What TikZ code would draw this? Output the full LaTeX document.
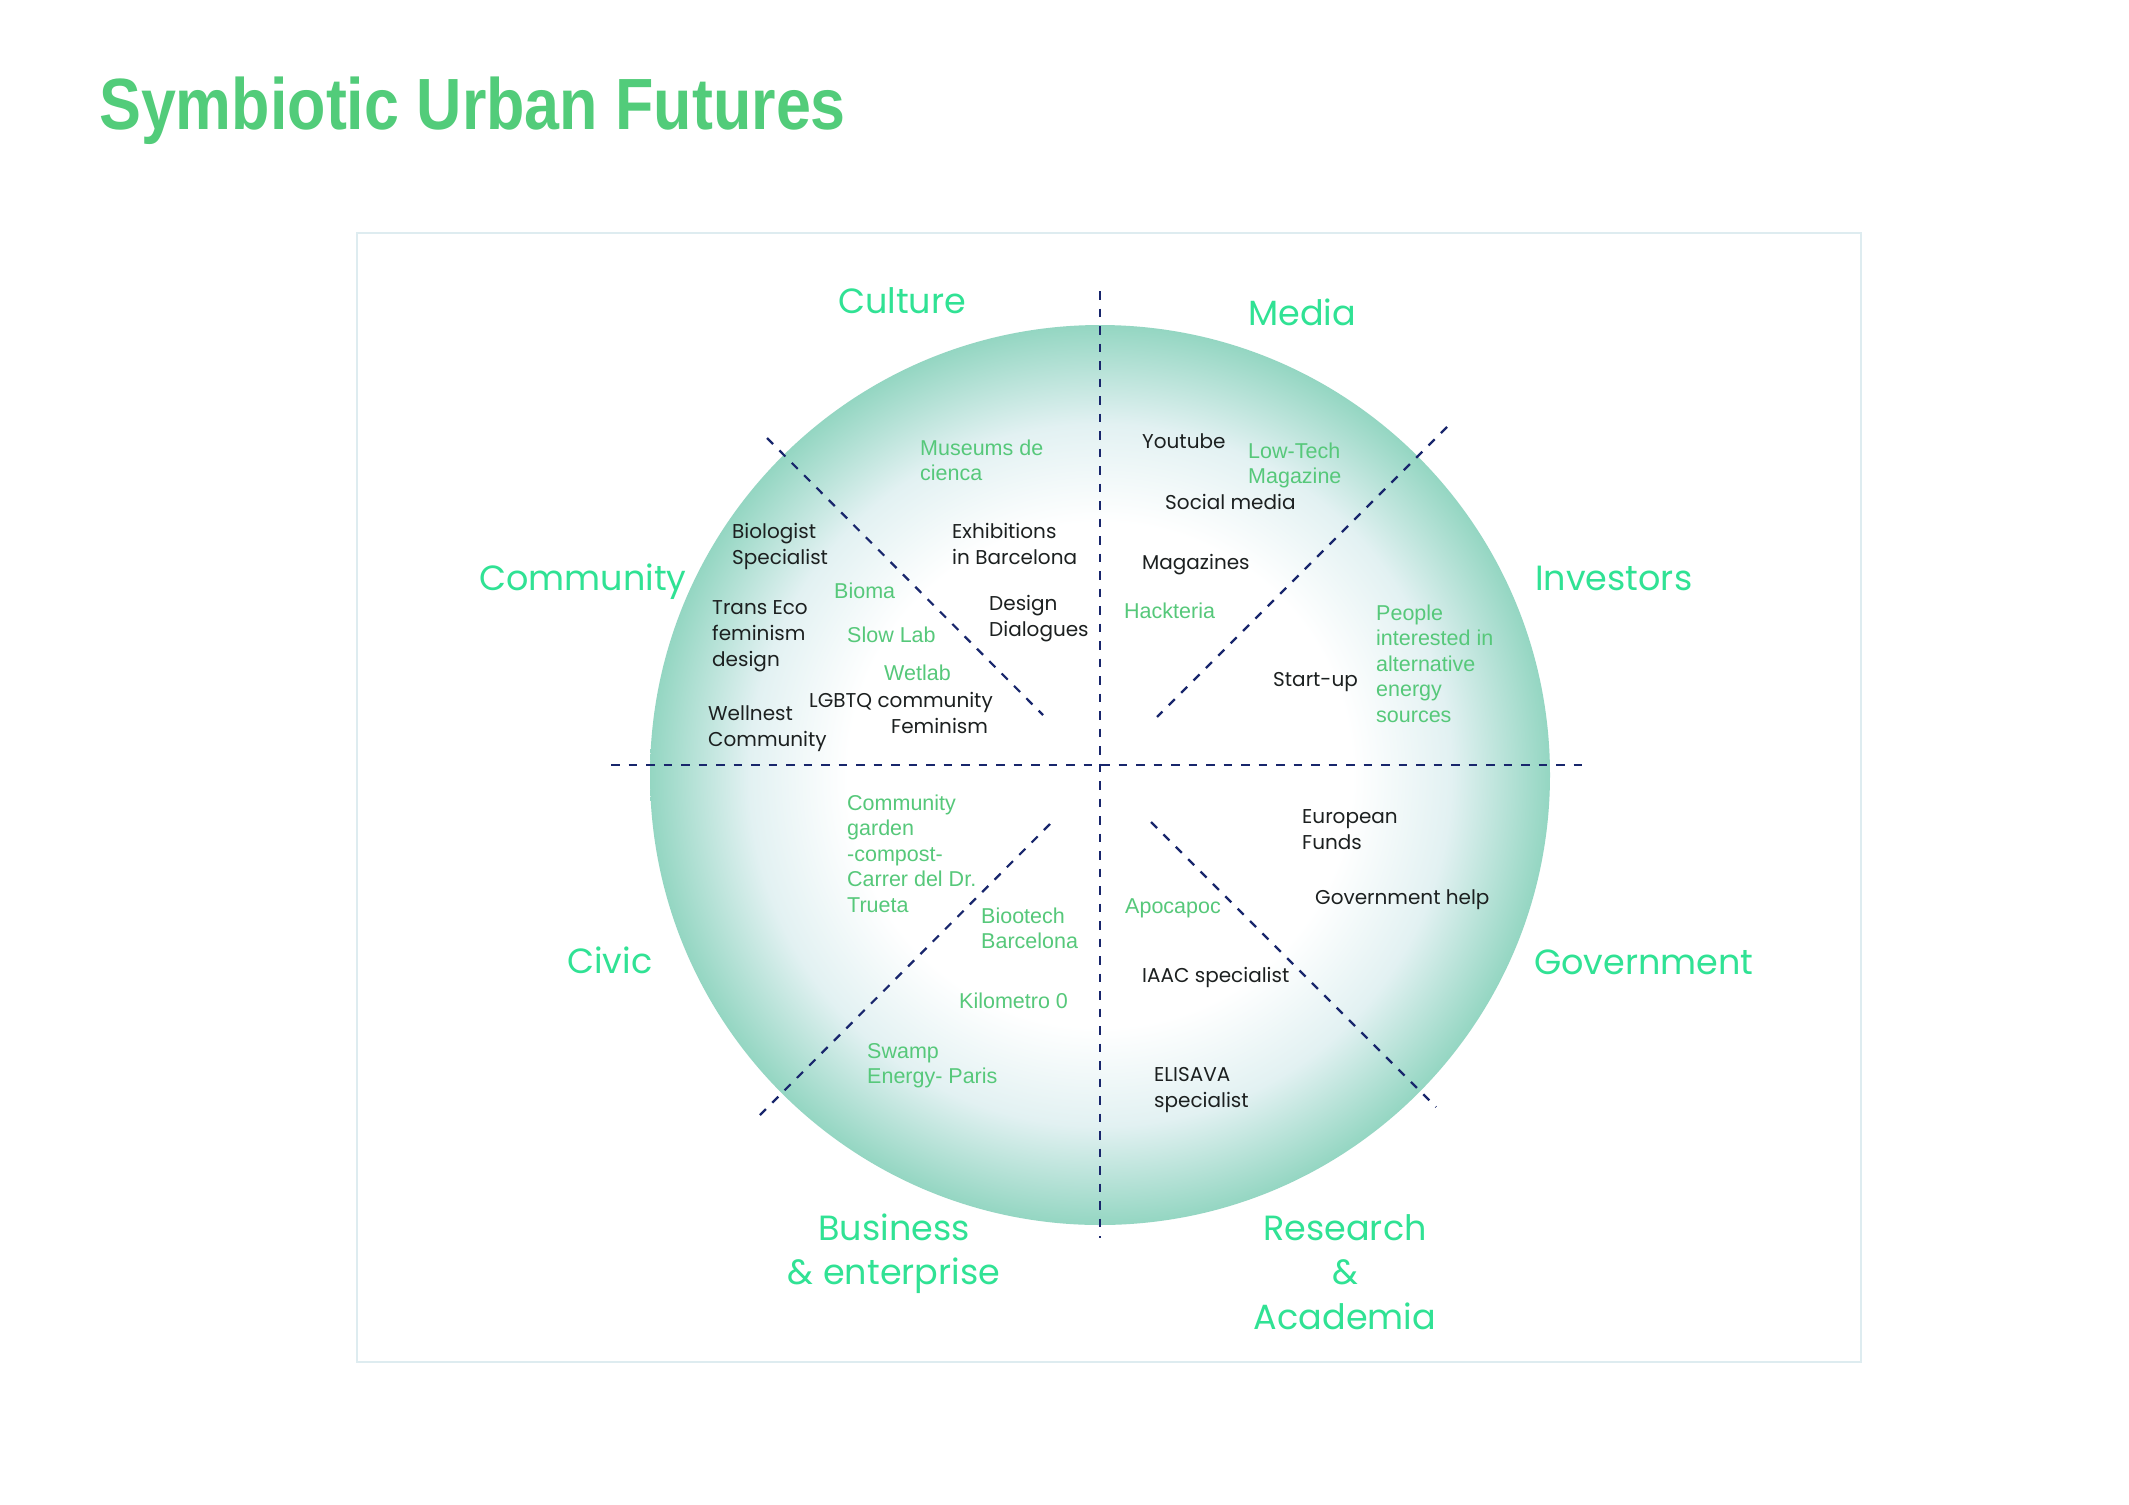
\documentclass[tikz,border=0pt]{standalone}
\usepackage{fontspec}
\setmainfont{Liberation Sans}
\newfontfamily\popp{Poppins}
\newfontfamily\helv{Liberation Sans}
\definecolor{titlegreen}{RGB}{82,204,122}
\definecolor{catgreen}{RGB}{48,226,148}
\definecolor{itemgreen}{RGB}{86,200,122}
\definecolor{itemblack}{RGB}{28,32,32}
\definecolor{navy}{RGB}{24,38,108}
\definecolor{framecol}{RGB}{222,236,240}
\definecolor{mintedge}{RGB}{148,214,194}
\definecolor{mintmid}{RGB}{226,241,242}
\pgfdeclareradialshading{mintglow}{\pgfpointorigin}{color(0bp)=(white); color(14bp)=(white); color(19.5bp)=(mintmid); color(25bp)=(mintedge); color(50bp)=(mintedge)}
\tikzset{
  blackitem/.style={anchor=base west, align=left, text=itemblack, font=\popp\fontsize{20}{26}\selectfont, inner sep=0pt},
  greenitem/.style={anchor=base west, align=left, text=itemgreen, font=\helv\fontsize{21.5}{25.6}\selectfont, inner sep=0pt},
  cat/.style={anchor=base west, align=left, text=catgreen, font=\popp\fontsize{35}{44}\selectfont, inner sep=0pt},
  catc/.style={anchor=base, align=center, text=catgreen, font=\popp\fontsize{35}{44.5}\selectfont, inner sep=0pt},
  divider/.style={draw=navy, line width=2.2pt, dash pattern=on 8.5pt off 9pt},
}
\begin{document}
\begin{tikzpicture}[x=1pt,y=-1pt]
\useasboundingbox[fill=white] (0,0) rectangle (2129,1505);
% title
\node[anchor=base west, inner sep=0pt, text=titlegreen, font=\helv\bfseries\fontsize{72.6}{80}\selectfont, xscale=0.865] (title) at (99,129) {Symbiotic Urban Futures};
% frame
\draw[framecol, line width=1.5pt] (357,233) rectangle (1861,1362);
% circle
\coordinate (c) at (1100,775);
\shade[shading=mintglow] (c) circle (450);
% dividers
\coordinate (vt) at (1100,291); \coordinate (vb) at (1100,1238);
\coordinate (hl) at (611,765); \coordinate (hr) at (1589,765);
\coordinate (ula) at (767,438); \coordinate (ulb) at (1043,715);
\coordinate (ura) at (1447,427); \coordinate (urb) at (1157,717);
\coordinate (lla) at (1050,824); \coordinate (llb) at (757,1118);
\coordinate (lra) at (1151,822); \coordinate (lrb) at (1436,1107);
\draw[divider] (vt) -- (vb);
\draw[divider] (hl) -- (hr);
\draw[divider] (ula) -- (ulb);
\draw[divider] (ura) -- (urb);
\draw[divider] (lla) -- (llb);
\draw[divider] (lra) -- (lrb);
% categories (multi-line nodes are placed by the baseline of their last line)
\node[cat] (culture) at (838,313) {Culture};
\node[cat] (media) at (1248,325) {Media};
\node[cat] (community) at (479,590) {Community};
\node[cat] (investors) at (1535,590) {Investors};
\node[cat] (civic) at (567,973) {Civic};
\node[cat] (government) at (1534,974) {Government};
\node[catc] (business) at (894,1284.5) {Business\\\& enterprise};
\node[catc] (research) at (1345,1329) {Research\\\&\\Academia};
% black items
\node[blackitem] (bio) at (732,564) {Biologist\\Specialist};
\node[blackitem] (exh) at (952,564) {Exhibitions\\in Barcelona};
\node[blackitem] (trans) at (712,666) {Trans Eco\\feminism\\design};
\node[blackitem] (dd) at (989,636) {Design\\Dialogues};
\node[blackitem] (lgbtq) at (809,707) {LGBTQ community};
\node[blackitem] (fem) at (891,733) {Feminism};
\node[blackitem] (well) at (708,746) {Wellnest\\Community};
\node[blackitem] (yt) at (1142,448) {Youtube};
\node[blackitem] (social) at (1165,509) {Social media};
\node[blackitem] (mags) at (1142,569) {Magazines};
\node[blackitem] (startup) at (1273,686) {Start-up};
\node[blackitem] (euro) at (1302,849) {European\\Funds};
\node[blackitem] (govhelp) at (1315,904) {Government help};
\node[blackitem] (iaac) at (1142,982) {IAAC specialist};
\node[blackitem] (elisava) at (1154,1107) {ELISAVA\\specialist};
% green items
\node[greenitem] (museums) at (920,480.6) {Museums de\\cienca};
\node[greenitem] (bioma) at (834,598) {Bioma};
\node[greenitem] (slowlab) at (847,642) {Slow Lab};
\node[greenitem] (wetlab) at (884,680) {Wetlab};
\node[greenitem] (lowtech) at (1248,483.6) {Low-Tech\\Magazine};
\node[greenitem] (hackteria) at (1124,618) {Hackteria};
\node[greenitem] (people) at (1376,722.4) {People\\interested in\\alternative\\energy\\sources};
\node[greenitem] (cgarden) at (847,912.4) {Community\\garden\\-compost-\\Carrer del Dr.\\Trueta};
\node[greenitem] (biootech) at (981,948.6) {Biootech\\Barcelona};
\node[greenitem] (km0) at (959,1008) {Kilometro 0};
\node[greenitem] (swamp) at (867,1083.6) {Swamp\\Energy- Paris};
\node[greenitem] (apocapoc) at (1125,913) {Apocapoc};
\end{tikzpicture}
\end{document}
